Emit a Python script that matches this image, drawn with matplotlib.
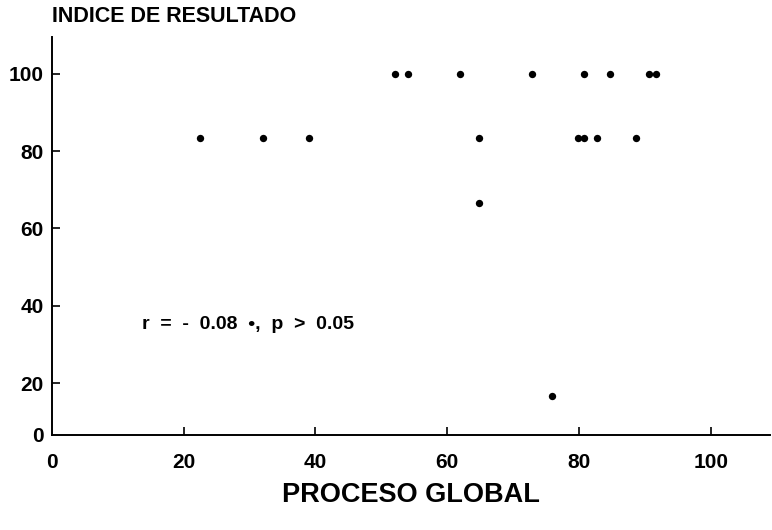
import matplotlib
matplotlib.use("Agg")
import matplotlib.pyplot as plt

# scatter: proceso global vs indice de resultado
proceso = [22.4, 32.1, 39.0, 52.0, 54.0, 62.0, 64.8, 64.8, 72.9, 75.9,
           79.8, 80.8, 80.8, 82.8, 84.7, 88.7, 90.7, 91.7]
resultado = [83.3, 83.3, 83.3, 100, 100, 100, 83.3, 66.7, 100, 16.7,
             83.3, 83.3, 100, 83.3, 100, 83.3, 100, 100]

x_ticks = [0, 20, 40, 60, 80, 100]
y_ticks = [20, 40, 60, 80, 100]
Y_BOTTOM = 6.6   # the printed axis starts slightly above zero; its first tick reads "0"

plt.rcParams.update({
    "font.family": "Liberation Sans",
    "font.weight": "bold",
})

fig = plt.figure(figsize=(7.72, 5.30), dpi=100)
ax = fig.add_axes([52 / 772, 1 - 435 / 530, (770 - 52) / 772, (435 - 37) / 530])

ax.scatter(proceso, resultado, s=28, color="black", zorder=3, linewidths=0)

ax.set_xlim(0, 109)
ax.set_ylim(Y_BOTTOM, 109.5)
ax.set_xticks(x_ticks)
ax.set_xticklabels([str(v) for v in x_ticks])
ax.set_yticks([Y_BOTTOM] + y_ticks)
ax.set_yticklabels(["0"] + [str(v) for v in y_ticks])

for side in ("top", "right"):
    ax.spines[side].set_visible(False)
for side in ("left", "bottom"):
    ax.spines[side].set_linewidth(1.4)

ax.tick_params(axis="both", direction="in", length=6, width=1.2, labelsize=15)
ax.tick_params(axis="x", pad=13)
ax.tick_params(axis="y", pad=6)
# no tick mark on the corner
ax.yaxis.get_major_ticks()[0].tick1line.set_visible(False)
ax.xaxis.get_major_ticks()[0].tick1line.set_visible(False)

ax.set_xlabel("PROCESO GLOBAL", fontsize=19.5, fontweight="bold", labelpad=7)

ax.text(13.6, 35.2, "r  =  -  0.08  \u2022,  p  >  0.05", fontsize=14,
        fontweight="bold", va="center", ha="left")

fig.text(52 / 772, 1 - 17 / 530, "INDICE DE RESULTADO", fontsize=15.5,
         fontweight="bold", va="center", ha="left")

fig.savefig("out.png", dpi=100, facecolor="white")
